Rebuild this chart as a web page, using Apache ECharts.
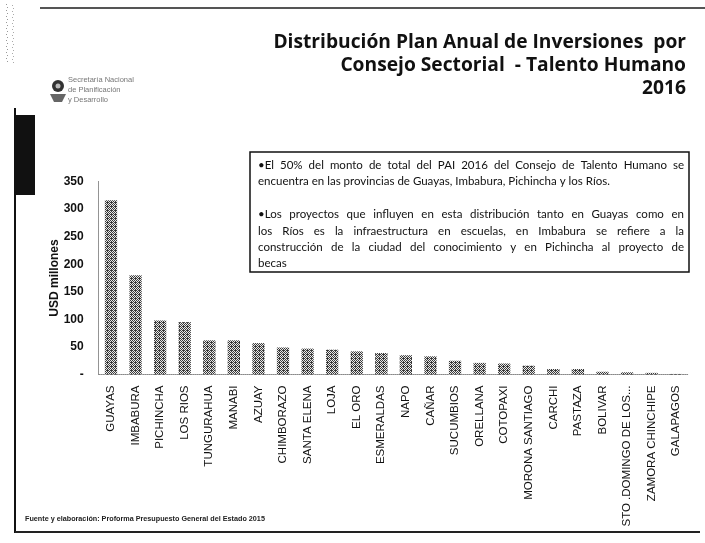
<!DOCTYPE html>
<html><head><meta charset="utf-8">
<script src="https://cdn.jsdelivr.net/npm/echarts@6/dist/echarts.min.js"></script>
<style>html,body{margin:0;padding:0;background:#fff}#c{width:705px;height:543px}</style>
</head><body><div id="c"></div>
<script>
const categories = ['GUAYAS','IMBABURA','PICHINCHA','LOS RIOS','TUNGURAHUA','MANABI','AZUAY','CHIMBORAZO','SANTA ELENA','LOJA','EL ORO','ESMERALDAS','NAPO','CAÑAR','SUCUMBIOS','ORELLANA','COTOPAXI','MORONA SANTIAGO','CARCHI','PASTAZA','BOLIVAR','STO .DOMINGO DE LOS...','ZAMORA CHINCHIPE','GALAPAGOS'];
const values = [316,180,98,95,62,62,57,49,47,45,42,39,35,33,25,21,20,16,10,10,5,4,3,1];
const yName = 'USD millones';
const titleLines = ['Distribución Plan Anual de Inversiones  por','Consejo Sectorial  - Talento Humano','2016'];
const noteLines = [
  '•El 50% del monto de total del PAI 2016 del Consejo de Talento Humano se',
  'encuentra en las provincias de Guayas, Imbabura, Pichincha y los Ríos.',
  '•Los proyectos que influyen en esta distribución  tanto en Guayas como en',
  'los Ríos  es la infraestructura en escuelas, en Imbabura  se refiere a la',
  'construcción de la ciudad del conocimiento y en Pichincha al proyecto de',
  'becas'
];
const noteJustify = [true,false,true,true,true,false];
const logoLines = ['Secretaría Nacional','de Planificación','y Desarrollo'];
const footnote = 'Fuente y elaboración: Proforma Presupuesto General del Estado 2015';

const mc = document.createElement('canvas').getContext('2d');
function measure(text, font){ mc.font = font; return mc.measureText(text).width; }
function fitSize(text, weight, family, width){
  return width / measure(text, weight + ' 100px ' + family) * 100;
}

// bar pattern (stippled grey)
const pat = document.createElement('canvas');
pat.width = 4; pat.height = 4;
const pc = pat.getContext('2d');
pc.fillStyle = '#e8e8e8'; pc.fillRect(0,0,4,4);
pc.fillStyle = '#3a3a3a';
[[0,0],[2,0],[1,1],[3,1],[0,2],[2,2],[1,3],[3,3],[3,2]].forEach(p=>pc.fillRect(p[0],p[1],1,1));

const graphics = [];
graphics.push({type:'line', shape:{x1:40,y1:8,x2:705,y2:8}, style:{stroke:'#555',lineWidth:2}, silent:true});
graphics.push({type:'line', shape:{x1:15,y1:108,x2:15,y2:533}, style:{stroke:'#111',lineWidth:2}, silent:true});
graphics.push({type:'line', shape:{x1:15,y1:532,x2:700,y2:532}, style:{stroke:'#222',lineWidth:2}, silent:true});
graphics.push({type:'rect', shape:{x:15,y:115,width:20,height:80}, style:{fill:'#111'}, silent:true});
for (let y=4; y<62; y+=3){ graphics.push({type:'rect', shape:{x:6+(y%2),y:y,width:1,height:1}, style:{fill:'#999'}, silent:true});
  graphics.push({type:'rect', shape:{x:12+(y%2),y:y+1,width:1,height:1}, style:{fill:'#aaa'}, silent:true}); }
// logo
graphics.push({type:'circle', shape:{cx:58,cy:86,r:6}, style:{fill:'#333'}, silent:true});
graphics.push({type:'circle', shape:{cx:58,cy:86,r:2.5}, style:{fill:'#bbb'}, silent:true});
graphics.push({type:'polygon', shape:{points:[[50,94],[66,94],[62,102],[54,102]]}, style:{fill:'#666'}, silent:true});
logoLines.forEach((t,i)=>graphics.push({type:'text', x:68, y:80+i*10, style:{text:t, font:'7.5px "Liberation Sans", sans-serif', fill:'#777', verticalAlign:'middle'}, silent:true}));

// title
const tFam = '"Open Sans", sans-serif';
const tSize = fitSize(titleLines[0], 'bold', tFam, 413);
titleLines.forEach((t,i)=>graphics.push({type:'text', x:686, y:43+i*23, style:{text:t, font:'bold '+tSize.toFixed(2)+'px '+tFam, fill:'#111', align:'right', verticalAlign:'middle'}, silent:true}));

// note box
graphics.push({type:'rect', shape:{x:250,y:152,width:439,height:120}, style:{fill:'#fff', stroke:'#111', lineWidth:1.5}, silent:true});
const nFam = 'Lato, sans-serif';
const nSize = fitSize(noteLines[1], 'normal', nFam, 352);
const nFont = nSize.toFixed(2)+'px '+nFam;
const nY = [165,181,214,231,247,263];
const nX0 = 258, nX1 = 684;
noteLines.forEach((line,i)=>{
  if (!noteJustify[i]) {
    graphics.push({type:'text', x:nX0, y:nY[i], style:{text:line, font:nFont, fill:'#111', verticalAlign:'middle'}, silent:true});
    return;
  }
  const words = line.split(/ +/);
  const ws = words.map(w=>measure(w, nFont));
  const tot = ws.reduce((a,b)=>a+b,0);
  const gap = (nX1-nX0-tot)/(words.length-1);
  let x = nX0;
  words.forEach((w,k)=>{
    graphics.push({type:'text', x:x, y:nY[i], style:{text:w, font:nFont, fill:'#111', verticalAlign:'middle'}, silent:true});
    x += ws[k] + gap;
  });
});

// footnote
const fFam = '"Liberation Sans", sans-serif';
const fSize = fitSize(footnote, 'bold', fFam, 240);
graphics.push({type:'text', x:25, y:519, style:{text:footnote, font:'bold '+fSize.toFixed(2)+'px '+fFam, fill:'#222', verticalAlign:'middle'}, silent:true});

const chart = echarts.init(document.getElementById('c'), null, {renderer:'canvas'});
chart.setOption({
  animation:false,
  backgroundColor:'#fff',
  grid:{left:98.7, right:16.5, top:181.5, bottom:168.5},
  xAxis:{
    type:'category', data:categories,
    axisLine:{show:true, lineStyle:{color:'#888', type:'dotted', width:1}},
    axisTick:{show:false},
    axisLabel:{rotate:90, interval:0, margin:11, color:'#111', fontFamily:'"Liberation Sans", sans-serif', fontSize:11.5}
  },
  yAxis:{
    type:'value', min:0, max:350, interval:50,
    name:yName, nameLocation:'middle', nameGap:38, nameRotate:90, nameMoveOverlap:false,
    nameTextStyle:{color:'#111', fontFamily:'"Liberation Sans", sans-serif', fontWeight:'bold', fontSize:12},
    axisLine:{show:true, lineStyle:{color:'#888', type:'dotted', width:1}},
    axisTick:{show:false},
    splitLine:{show:false},
    axisLabel:{margin:15, color:'#111', fontFamily:'"Liberation Sans", sans-serif', fontWeight:'bold', fontSize:12,
      formatter:v=> v===0 ? '-' : String(v)}
  },
  series:[{
    type:'bar', data:values, barWidth:'50%',
    itemStyle:{color:{image:pat, repeat:'repeat'}},
    silent:true
  }],
  graphic:graphics
});
</script>
</body></html>
